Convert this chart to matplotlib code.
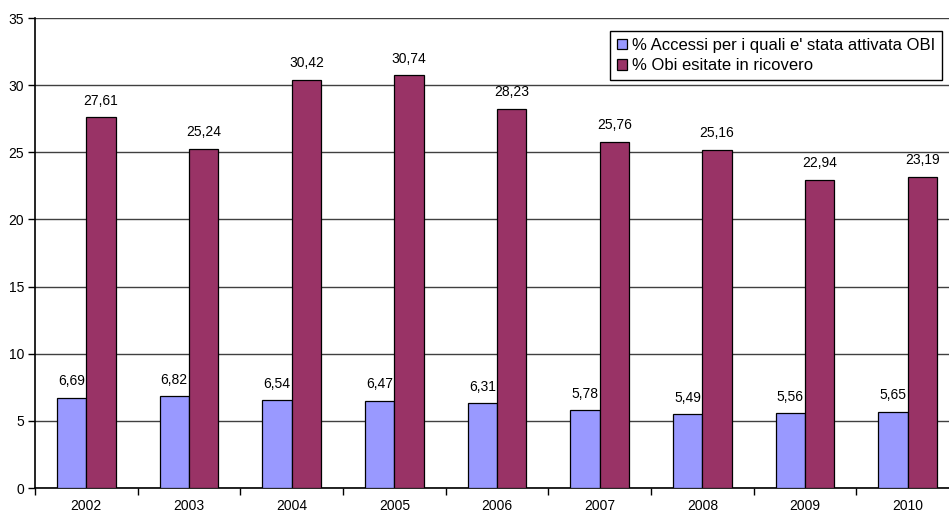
import numpy as np
import matplotlib.pyplot as plt

years = ['2002', '2003', '2004', '2005', '2006', '2007', '2008', '2009', '2010']
accessi_obi = [6.69, 6.82, 6.54, 6.47, 6.31, 5.78, 5.49, 5.56, 5.65]
obi_ricovero = [27.61, 25.24, 30.42, 30.74, 28.23, 25.76, 25.16, 22.94, 23.19]
labels = ["% Accessi per i quali e' stata attivata OBI", '% Obi esitate in ricovero']

plt.rcParams['font.family'] = ['Liberation Sans', 'DejaVu Sans']

fig = plt.figure(figsize=(9.49, 5.13), dpi=100)
# the original chart is cropped on the right, so the axes run past the figure edge
ax = fig.add_axes([35 / 949, 25 / 513, 924 / 949, 470 / 513])

x = np.arange(len(years))
w = 0.287
b1 = ax.bar(x - w / 2, accessi_obi, w, color='#9999FF', edgecolor='black', linewidth=0.9,
            label=labels[0], zorder=3)
b2 = ax.bar(x + w / 2, obi_ricovero, w, color='#993366', edgecolor='black', linewidth=0.9,
            label=labels[1], zorder=3)

for rects, vals in ((b1, accessi_obi), (b2, obi_ricovero)):
    for r, v in zip(rects, vals):
        ax.text(r.get_x() + r.get_width() / 2, v + 0.72, f'{v:.2f}'.replace('.', ','),
                ha='center', va='bottom', fontsize=10)

ax.set_xlim(-0.5, len(years) - 0.5)
ax.set_ylim(0, 35)
ax.set_yticks(range(0, 36, 5))
ax.set_xticks(x)
ax.set_xticklabels(years)
ax.set_xticks(np.arange(-0.5, len(years), 1), minor=True)
ax.tick_params(axis='x', which='major', length=0, pad=8, labelsize=10)
ax.tick_params(axis='x', which='minor', length=5, width=1, direction='out')
ax.tick_params(axis='y', length=5, width=1, labelsize=10, pad=3)
ax.grid(axis='y', color='#404040', linewidth=1, zorder=0)

for s in ('top', 'right'):
    ax.spines[s].set_visible(False)
ax.spines['left'].set_linewidth(1.2)
ax.spines['bottom'].set_linewidth(1.2)

leg = ax.legend(loc='upper right', bbox_to_anchor=((942 - 35) / 924, (488 - 31) / 470),
                bbox_transform=ax.transAxes,
                fontsize=12, frameon=True, fancybox=False, edgecolor='black', framealpha=1,
                handlelength=0.6, handleheight=0.6, handletextpad=0.3,
                borderpad=0.42, labelspacing=0.32, borderaxespad=0)
leg.get_frame().set_linewidth(1)
leg.set_zorder(5)

fig.savefig('out.png', dpi=100)
